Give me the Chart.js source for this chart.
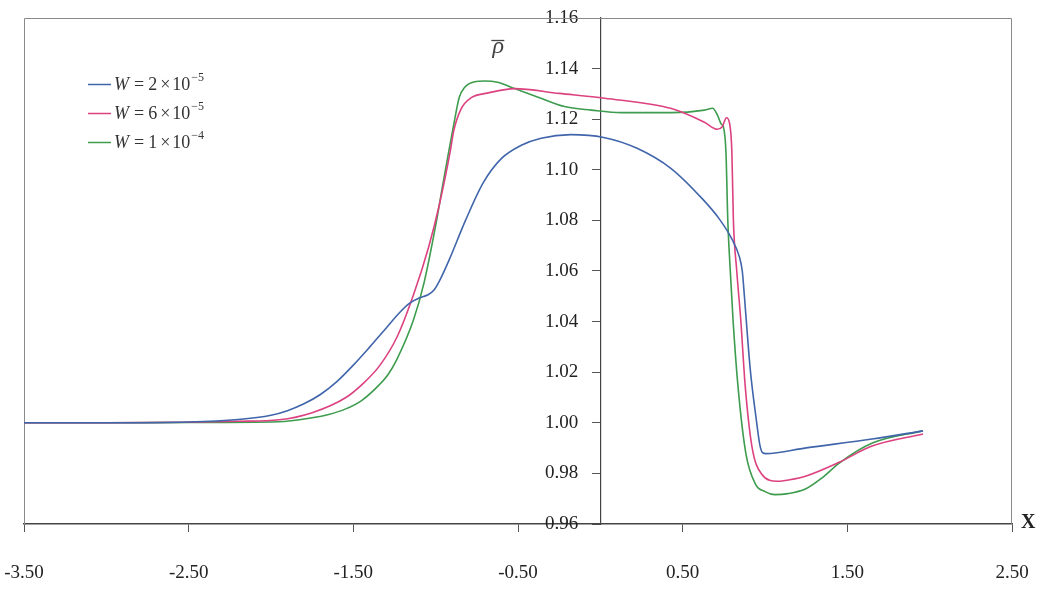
<!DOCTYPE html>
<html>
<head>
<meta charset="utf-8">
<script src="https://cdn.jsdelivr.net/npm/chart.js@4/dist/chart.umd.min.js"></script>
<style>
html,body{margin:0;padding:0;background:#ffffff;}
#wrap{width:1037px;height:599px;position:relative;}
</style>
</head>
<body>
<div id="wrap"><canvas id="c" width="1037" height="599"></canvas></div>
<script>
// ---- tick labels ----
const xTicks = [-3.5, -2.5, -1.5, -0.5, 0.5, 1.5, 2.5];
const yTicks = [0.96, 0.98, 1.00, 1.02, 1.04, 1.06, 1.08, 1.10, 1.12, 1.14, 1.16];

// ---- series names ----
const seriesLabels = ['W = 2×10⁻⁵', 'W = 6×10⁻⁵', 'W = 1×10⁻⁴'];
const seriesCoef = ['2', '6', '1'];
const seriesExp = ['−5', '−5', '−4'];

// ---- W = 2e-5 (blue) ----
const blueX = [-3.5, -3.0, -2.5, -2.2, -2.0, -1.9, -1.8, -1.7, -1.6, -1.5, -1.4, -1.3, -1.22, -1.16, -1.10, -1.05, -1.01, -0.97, -0.92, -0.82, -0.71, -0.60, -0.48, -0.36, -0.18, 0.02, 0.22, 0.43, 0.62, 0.72, 0.80, 0.845, 0.862, 0.875, 0.888, 0.911, 0.948, 0.968, 0.985, 1.005, 1.25, 1.65, 1.96];
const blueY = [1.0000, 1.0000, 1.0003, 1.0013, 1.0030, 1.0048, 1.0075, 1.0112, 1.0163, 1.0228, 1.0300, 1.0375, 1.0435, 1.0472, 1.0493, 1.0505, 1.0525, 1.0570, 1.0641, 1.0798, 1.0950, 1.1045, 1.1097, 1.1125, 1.1139, 1.1128, 1.1086, 1.1005, 1.0885, 1.0808, 1.0725, 1.0655, 1.0600, 1.0500, 1.0390, 1.0207, 1.0008, 0.9915, 0.9882, 0.9878, 0.9901, 0.9936, 0.9968];

// ---- W = 6e-5 (pink) ----
const pinkX = [-3.5, -3.0, -2.5, -2.2, -1.95, -1.75, -1.545, -1.446, -1.341, -1.234, -1.133, -1.043, -0.977, -0.911, -0.89, -0.846, -0.784, -0.686, -0.521, -0.25, 0.026, 0.432, 0.632, 0.71, 0.74, 0.766, 0.784, 0.799, 0.808, 0.828, 0.853, 0.880, 0.921, 0.979, 1.076, 1.15, 1.25, 1.45, 1.65, 1.96];
const pinkY = [1.0000, 1.0000, 1.0002, 1.0006, 1.0012, 1.0040, 1.0100, 1.0152, 1.0225, 1.0340, 1.0509, 1.0694, 1.0864, 1.1075, 1.1155, 1.1240, 1.1285, 1.1303, 1.1321, 1.1302, 1.1283, 1.1242, 1.1188, 1.1160, 1.1170, 1.1206, 1.1186, 1.1067, 1.0802, 1.0604, 1.0405, 1.0144, 0.9905, 0.9798, 0.9769, 0.9775, 0.9790, 0.9844, 0.9908, 0.9956];

// ---- W = 1e-4 (green) ----
const greenX = [-3.5, -3.0, -2.5, -1.955, -1.75, -1.65, -1.546, -1.45, -1.343, -1.29, -1.237, -1.135, -1.07, -1.0, -0.957, -0.924, -0.89, -0.857, -0.825, -0.764, -0.703, -0.624, -0.521, -0.382, -0.218, -0.055, 0.128, 0.432, 0.633, 0.682, 0.712, 0.735, 0.747, 0.763, 0.774, 0.783, 0.806, 0.836, 0.884, 0.941, 1.0, 1.06, 1.14, 1.245, 1.344, 1.449, 1.652, 1.957];
const greenY = [1.0000, 1.0000, 1.0001, 1.0004, 1.0020, 1.0033, 1.0055, 1.0088, 1.0150, 1.0190, 1.0249, 1.0406, 1.0555, 1.0780, 1.0940, 1.1060, 1.1179, 1.1286, 1.1325, 1.1348, 1.1351, 1.1346, 1.1321, 1.1288, 1.1250, 1.1236, 1.1226, 1.1226, 1.1236, 1.1243, 1.1215, 1.1180, 1.1170, 1.1068, 1.0802, 1.0672, 1.0406, 1.0144, 0.9878, 0.9759, 0.9728, 0.9716, 0.9720, 0.9738, 0.9781, 0.9840, 0.9920, 0.9968];

const seriesColors = ['#4065aa', '#dc4280', '#3d9c4e'];

function pts(xs, ys) { return xs.map((x, i) => ({ x: x, y: ys[i] })); }

const SERIF = '"Liberation Serif", "Times New Roman", "DejaVu Serif", serif';

// linear scale whose tick labels sit left of an axis placed at a data value
class CrossLinearScale extends Chart.LinearScale {
  _computeLabelItems(area) {
    const items = super._computeLabelItems(area);
    const off = this.options.grid.tickLength + this.options.ticks.padding;
    items.forEach(it => { it.options.translation[0] -= off; });
    return items;
  }
}
CrossLinearScale.id = 'crossLinear';
CrossLinearScale.defaults = Chart.LinearScale.defaults;
Chart.register(CrossLinearScale);

const framePlugin = {
  id: 'frame',
  beforeDatasetsDraw(chart) {
    const a = chart.chartArea, ctx = chart.ctx;
    ctx.save();
    ctx.strokeStyle = '#8a8a8a';
    ctx.lineWidth = 1;
    ctx.beginPath();
    ctx.moveTo(a.left + 0.5, a.bottom);
    ctx.lineTo(a.left + 0.5, a.top + 0.5);
    ctx.lineTo(a.right - 0.5, a.top + 0.5);
    ctx.lineTo(a.right - 0.5, a.bottom);
    ctx.stroke();
    ctx.restore();
  }
};

const annotPlugin = {
  id: 'annot',
  afterDraw(chart) {
    const a = chart.chartArea, ctx = chart.ctx;
    const xs = chart.scales.x;
    ctx.save();
    // legend
    const lx = a.left + 64;
    const rows = [a.top + 66, a.top + 95, a.top + 124];
    chart.data.datasets.forEach((ds, i) => {
      const y = rows[i];
      ctx.strokeStyle = ds.borderColor;
      ctx.lineWidth = 1.5;
      ctx.beginPath();
      ctx.moveTo(lx, y + 0.5);
      ctx.lineTo(lx + 23, y + 0.5);
      ctx.stroke();
      ctx.fillStyle = '#333';
      ctx.textBaseline = 'middle';
      ctx.textAlign = 'left';
      let x = lx + 26;
      ctx.font = 'italic 18px ' + SERIF;
      ctx.fillText('W', x, y + 1);
      x += ctx.measureText('W').width + 5;
      ctx.font = '18px ' + SERIF;
      const parts = ['=', seriesCoef[i], '×', '10'];
      const gaps = [4, 3, 2, 1];
      parts.forEach((p, k) => {
        ctx.fillText(p, x, y + 1);
        x += ctx.measureText(p).width + gaps[k];
      });
      ctx.font = '12px ' + SERIF;
      ctx.fillText(seriesExp[i], x, y - 6);
    });
    // y title (rho bar)
    const x0 = xs.getPixelForValue(0);
    ctx.fillStyle = '#444';
    ctx.font = 'italic 24px ' + SERIF;
    ctx.textBaseline = 'alphabetic';
    ctx.textAlign = 'center';
    ctx.fillText('ρ', x0 - 102, a.top + 35);
    ctx.strokeStyle = '#444';
    ctx.lineWidth = 1.3;
    ctx.beginPath();
    ctx.moveTo(x0 - 109, a.top + 22.5);
    ctx.lineTo(x0 - 96, a.top + 22.5);
    ctx.stroke();
    // x title
    ctx.fillStyle = '#222';
    ctx.font = 'bold 20px ' + SERIF;
    ctx.textAlign = 'left';
    ctx.textBaseline = 'middle';
    ctx.fillText('X', a.right + 9, a.bottom - 1);
    ctx.restore();
  }
};

const chart = new Chart(document.getElementById('c'), {
  type: 'line',
  data: {
    datasets: [
      { label: seriesLabels[0], data: pts(blueX, blueY), borderColor: seriesColors[0] },
      { label: seriesLabels[1], data: pts(pinkX, pinkY), borderColor: seriesColors[1] },
      { label: seriesLabels[2], data: pts(greenX, greenY), borderColor: seriesColors[2] }
    ]
  },
  options: {
    responsive: false,
    animation: false,
    elements: {
      point: { radius: 0 },
      line: { borderWidth: 1.6, cubicInterpolationMode: 'monotone', fill: false }
    },
    layout: { padding: { left: 24, right: 25, top: 18, bottom: 0 } },
    plugins: { legend: { display: false }, tooltip: { enabled: false } },
    scales: {
      x: {
        type: 'linear', min: -3.5, max: 2.5, position: 'bottom',
        afterBuildTicks: s => { s.ticks = xTicks.map(v => ({ value: v })); },
        afterFit: s => { s.height = 75; s.paddingLeft = 0; s.paddingRight = 0; },
        grid: { drawOnChartArea: false, drawTicks: true, tickLength: 8, tickColor: '#555' },
        border: { display: true, color: '#444', width: 1.5 },
        ticks: {
          padding: 30, color: '#222', maxRotation: 0, autoSkip: false,
          font: { family: SERIF, size: 19 },
          callback: v => Number(v).toFixed(2)
        }
      },
      y: {
        type: 'crossLinear', min: 0.96, max: 1.16, position: { x: 0 },
        afterBuildTicks: s => { s.ticks = yTicks.map(v => ({ value: v })); },
        afterFit: s => { s.paddingTop = 0; s.paddingBottom = 0; },
        grid: { drawOnChartArea: false, drawTicks: true, tickLength: 8, tickColor: '#555' },
        border: { display: true, color: '#444', width: 1.2 },
        ticks: {
          padding: 14, color: '#222', autoSkip: false,
          font: { family: SERIF, size: 19 },
          callback: v => Number(v).toFixed(2)
        }
      }
    }
  },
  plugins: [framePlugin, annotPlugin]
});
</script>
</body>
</html>
